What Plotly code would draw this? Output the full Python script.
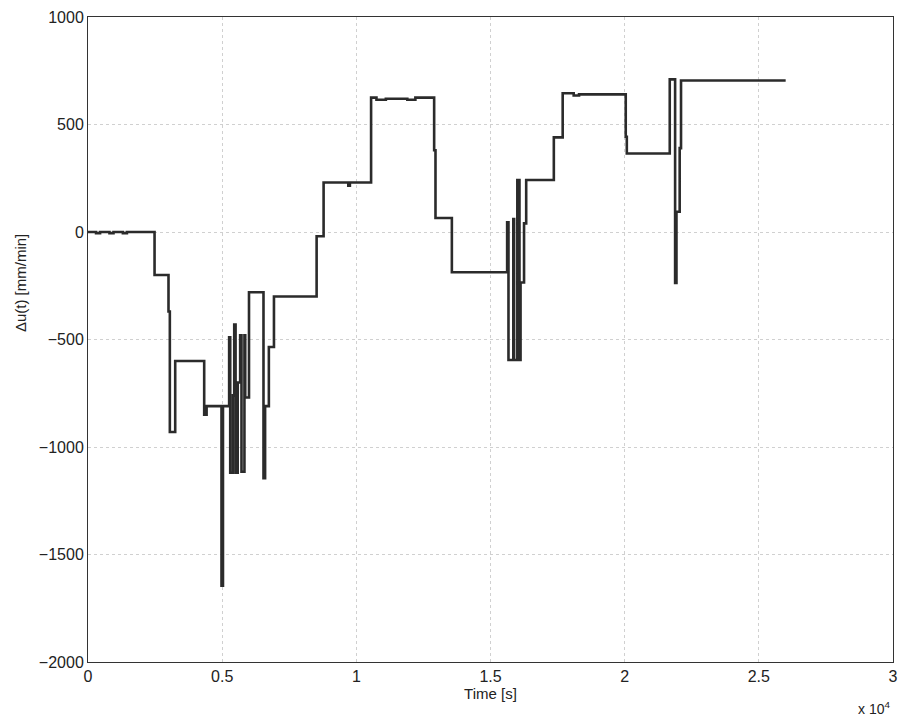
import plotly.graph_objects as go

# Step-change times [s] and Δu values [mm/min]
time_s = [0, 300, 450, 800, 950, 1300, 1450, 2480, 3000, 3050, 3250, 4330, 4420,
          4975, 5030, 5260, 5300, 5400, 5450, 5500, 5580, 5670, 5720, 5830, 5860,
          6000, 6540, 6600, 6740, 6930, 8520, 8780, 9700, 9760, 10550, 10750, 11100,
          11900, 12200, 12900, 12950, 13560, 15620, 15670, 15850, 15880, 16000, 16080,
          16120, 16250, 16330, 17360, 17690, 18100, 18300, 20040, 20080, 21680, 21880,
          21930, 22050, 22100, 26000]
delta_u = [0, -5, 0, -5, 0, -5, 0, -200, -370, -930, -600, -850, -810,
           -1645, -810, -490, -1120, -760, -430, -1120, -700, -480, -1115, -480, -770,
           -280, -1145, -810, -535, -300, -20, 230, 215, 230, 625, 615, 620,
           615, 625, 380, 65, -187, 45, -595, 60, -595, 242, -595,
           -235, 40, 242, 440, 645, 635, 640, 443, 365, 710, -237,
           94, 390, 705, 705]

x_tickvals = [0, 5000, 10000, 15000, 20000, 25000, 30000]
x_ticktext = ["0", "0.5", "1", "1.5", "2", "2.5", "3"]
y_tickvals = [-2000, -1500, -1000, -500, 0, 500, 1000]
y_ticktext = ["\u22122000", "\u22121500", "\u22121000", "\u2212500", "0", "500", "1000"]

font_family = "Liberation Sans, Arial, sans-serif"

fig = go.Figure()
fig.add_trace(go.Scatter(
    x=time_s, y=delta_u, mode="lines", line_shape="hv",
    line=dict(color="#2b2b2b", width=2.6), showlegend=False,
))

axis_common = dict(
    showgrid=True, gridcolor="#d0d0d0", gridwidth=1, griddash="dot",
    showline=True, linecolor="#333333", linewidth=1, mirror=True,
    ticks="", zeroline=False,
    tickfont=dict(family=font_family, size=16, color="#222222"),
)

fig.update_layout(
    width=905, height=722,
    margin=dict(l=88, r=7, t=17, b=60),
    paper_bgcolor="white", plot_bgcolor="white",
    font=dict(family=font_family, color="#222222"),
    xaxis=dict(range=[0, 30000], tickvals=x_tickvals, ticktext=x_ticktext,
               title=dict(text="Time [s]", font=dict(size=15), standoff=4),
               **axis_common),
    yaxis=dict(range=[-2000, 1000], tickvals=y_tickvals, ticktext=y_ticktext,
               **axis_common),
    annotations=[
        dict(text="\u0394u(t) [mm/min]", textangle=-90, xref="paper", yref="paper",
             x=-0.084, y=0.588, showarrow=False, font=dict(size=15),
             xanchor="center", yanchor="middle"),
        dict(text="x 10<sup>4</sup>", xref="paper", yref="paper",
             x=0.999, y=-0.072, showarrow=False, font=dict(size=14),
             xanchor="right", yanchor="middle"),
    ],
)

fig.write_html("out.html")
